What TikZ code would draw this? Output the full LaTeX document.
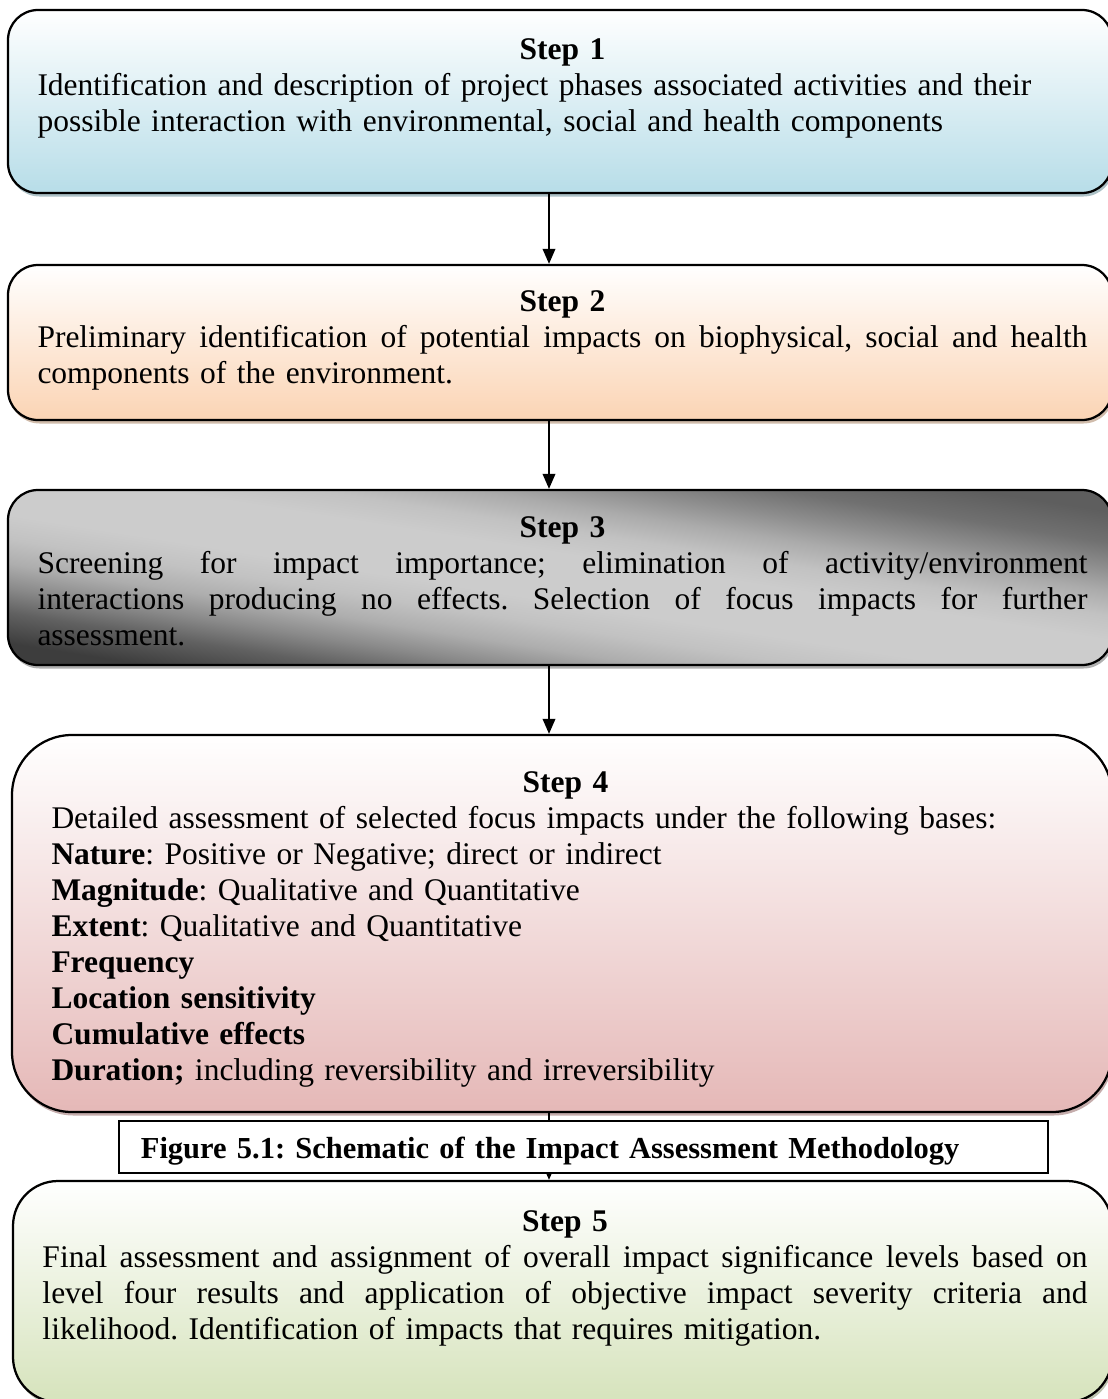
\documentclass[tikz,border=0pt]{standalone}
\usepackage{fontspec}
\setmainfont{Liberation Serif}
\usepackage{tikz}
\usetikzlibrary{arrows.meta, positioning, calc, fit, shadows}
\usepackage{xcolor}
\definecolor{stepblue}{RGB}{183,221,232}
\definecolor{steppeach}{RGB}{251,212,180}
\definecolor{stepgray}{RGB}{190,190,190}
\definecolor{steppink}{RGB}{229,184,183}
\definecolor{stepgreen}{RGB}{214,227,188}
\pgfdeclarehorizontalshading{diaggray}{100bp}{color(0bp)=(black!75); color(25bp)=(black!76); color(30bp)=(black!62); color(34bp)=(black!46); color(38bp)=(black!32); color(42bp)=(black!24); color(46bp)=(black!20); color(54bp)=(black!20); color(58bp)=(black!24); color(62bp)=(black!33); color(66bp)=(black!45); color(70bp)=(black!56); color(75bp)=(black!63); color(100bp)=(black!63)}
% justified line: give the spaces their stretch back
\newcommand{\jline}[1]{\makebox[\hsize][s]{\spaceskip=0pt\relax\xspaceskip=0pt\relax #1}}
\newcommand{\steptitle}[1]{\makebox[\hsize]{\strut\textbf{#1}}}
\frenchspacing

\begin{document}
\begin{tikzpicture}[x=0.4pt, y=-0.4pt,
    every node/.style={font=\fontsize{12.6}{14.4}\selectfont},
    stepbox/.style={draw=black, line width=0.9pt, rounded corners=12pt, inner sep=0pt,
      top color=white, bottom color=#1,
      drop shadow={shadow xshift=0.6pt, shadow yshift=-1.4pt, fill=#1!75!black, opacity=0.7}},
    steptext/.style={anchor=north west, inner sep=0pt, text width=#1, align=left},
    flowarrow/.style={-{Triangle[length=6pt, width=5pt]}, line width=0.8pt},
    capbox/.style={draw=black, line width=0.7pt, fill=white, inner xsep=8.8pt, inner ysep=0pt,
      text width=354pt, text height=15pt, text depth=5.8pt, align=left, anchor=north west,
      drop shadow={shadow xshift=0.4pt, shadow yshift=-0.5pt, fill=black!45, opacity=1}}]
  \useasboundingbox (0,0) rectangle (1107,1399);
  \coordinate (ax) at (549,0);

  % Step 1
  \node[stepbox=stepblue, fit={(8,10) (1112,193)}] (s1) {};
  \node[steptext=420pt] (t1) at (37,33.8) {\steptitle{Step 1}\\
    Identification and description of project phases associated activities and their\\
    possible interaction with environmental, social and health components};

  % Step 2
  \node[stepbox=steppeach, fit={(8,265) (1112,420)}] (s2) {};
  \node[steptext=420pt] (t2) at (37,285.8) {\steptitle{Step 2}\\
    \jline{Preliminary identification of potential impacts on biophysical, social and health}\\
    components of the environment.};

  % Step 3 (grey, dark top right and bottom left)
  \node[stepbox=stepgray, shading=diaggray, shading angle=81, fit={(8,490) (1112,665)}] (s3) {};
  \node[steptext=420pt] (t3) at (37,511.8) {\steptitle{Step 3}\\
    \jline{Screening for impact importance; elimination of activity/environment}\\
    \jline{interactions producing no effects. Selection of focus impacts for further}\\
    assessment.};

  % Step 4
  \node[stepbox=steppink, rounded corners=24pt, fit={(12,735) (1112,1112)}] (s4) {};
  \node[steptext=411.2pt] (t4) at (51,766.8) {\steptitle{Step 4}\\
    Detailed assessment of selected focus impacts under the following bases:\\
    \textbf{Nature}: Positive or Negative; direct or indirect\\
    \textbf{Magnitude}: Qualitative and Quantitative\\
    \textbf{Extent}: Qualitative and Quantitative\\
    \textbf{Frequency}\\
    \textbf{Location sensitivity}\\
    \textbf{Cumulative effects}\\
    \textbf{Duration;} including reversibility and irreversibility};

  % Step 5
  \node[stepbox=stepgreen, rounded corners=18pt, fit={(13,1181) (1112,1402)}] (s5) {};
  \node[steptext=418pt] (t5) at (42,1205.8) {\steptitle{Step 5}\\
    \jline{Final assessment and assignment of overall impact significance levels based on}\\
    \jline{level four results and application of objective impact severity criteria and}\\
    likelihood. Identification of impacts that requires mitigation.};

  % Arrows
  \draw[flowarrow] (s1.south -| ax) -- (s2.north -| ax);
  \draw[flowarrow] (s2.south -| ax) -- (s3.north -| ax);
  \draw[flowarrow] (s3.south -| ax) -- (s4.north -| ax);
  \draw[flowarrow] (s4.south -| ax) -- (s5.north -| ax);

  % Caption over the last arrow
  \node[capbox, font=\fontsize{12.2}{14}\selectfont] (cap) at (118,1120)
    {\textbf{Figure 5.1: Schematic of the Impact Assessment Methodology}};
\end{tikzpicture}
\end{document}
